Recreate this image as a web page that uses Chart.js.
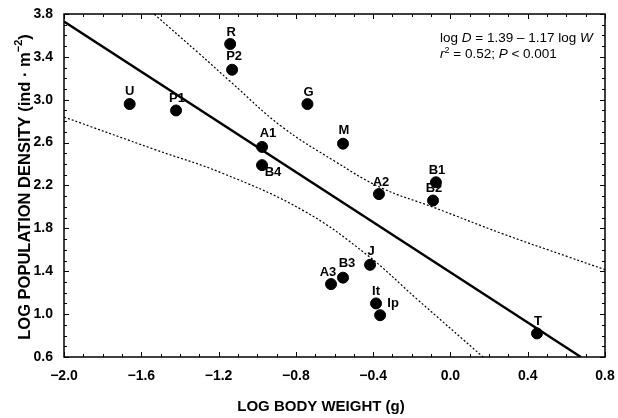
<!DOCTYPE html>
<html>
<head>
<meta charset="utf-8">
<script src="https://cdn.jsdelivr.net/npm/chart.js@4.4.1/dist/chart.umd.min.js"></script>
<style>
  html, body { margin: 0; padding: 0; background: #ffffff; }
  #wrap { width: 618px; height: 418px; }
</style>
</head>
<body>
<div id="wrap"><canvas id="c" width="618" height="418"></canvas></div>
<script>
// Sites: log body weight (g) vs log population density (ind · m^-2)
const siteCodes     = ['U', 'P1', 'R', 'P2', 'G', 'A1', 'B4', 'M', 'A2', 'B1', 'B2', 'J', 'B3', 'A3', 'It', 'Ip', 'T'];
const logBodyWeight = [-1.66, -1.42, -1.14, -1.13, -0.74, -0.975, -0.975, -0.556, -0.37, -0.075, -0.09, -0.416, -0.556, -0.618, -0.385, -0.364, 0.448];
const logDensity    = [2.96, 2.90, 3.52, 3.28, 2.96, 2.56, 2.39, 2.59, 2.12, 2.23, 2.06, 1.46, 1.34, 1.28, 1.10, 0.99, 0.82];

// Fitted regression: log D = 1.39 - 1.17 log W
const regIntercept = 1.39;
const regSlope = -1.17;

// 95% confidence band of the regression
const upperBandX = [-1.534, -1.30, -1.136, -0.877, -0.602, -0.359, -0.085, 0.262, 0.609, 0.80];
const upperBandY = [3.80, 3.43, 3.165, 2.755, 2.43, 2.179, 1.995, 1.755, 1.535, 1.415];
const lowerBandX = [-2.00, -1.529, -1.182, -0.763, -0.432, -0.173, 0.169];
const lowerBandY = [2.839, 2.535, 2.316, 1.968, 1.553, 1.14, 0.60];

// Axis ranges and labelled ticks
const xRange = [-2.0, 0.8];
const yRange = [0.6, 3.8];
const xTickStep = 0.4;
const yTickStep = 0.4;
const minorStep = 0.1;

const FONT = '"Liberation Sans", Arial, Helvetica, sans-serif';

function fmtTick(v) {
  if (Math.abs(v) < 1e-9) return '0.0';
  const s = Math.abs(v).toFixed(1);
  return v < 0 ? '\u2212' + s : s;
}

const pointData = logBodyWeight.map((x, i) => ({ x: x, y: logDensity[i] }));
const lowY = yRange[0];
const regEndX = (regIntercept - lowY) / -regSlope;
const regLine = [
  { x: xRange[0], y: regIntercept + regSlope * xRange[0] },
  { x: regEndX, y: regIntercept + regSlope * regEndX }
];
const upperBand = upperBandX.map((x, i) => ({ x: x, y: upperBandY[i] }));
const lowerBand = lowerBandX.map((x, i) => ({ x: x, y: lowerBandY[i] }));

// label offsets (px) from each dot
const labelPlacement = {
  U: [0, -13], P1: [1, -12], R: [1, -12], P2: [2, -13], G: [1, -12],
  A1: [6, -13], B4: [11, 7], M: [1, -13], A2: [2, -12], B1: [1, -12],
  B2: [1, -12], J: [1, -13], B3: [4, -14], A3: [-3, -12], It: [0, -12],
  Ip: [13, -12], T: [1, -12]
};

// Draw text made of styled pieces starting at x (left aligned)
function drawPieces(ctx, pieces, x, y) {
  let cx = x;
  for (const p of pieces) {
    ctx.font = p.font;
    ctx.fillText(p.text, cx, y + (p.dy || 0));
    cx += ctx.measureText(p.text).width;
  }
  return cx;
}
function piecesWidth(ctx, pieces) {
  let w = 0;
  for (const p of pieces) { ctx.font = p.font; w += ctx.measureText(p.text).width; }
  return w;
}

const framePlugin = {
  id: 'frameTicks',
  afterDatasetsDraw(chart) {
    const { ctx, chartArea: a, scales } = chart;
    const xs = scales.x, ys = scales.y;
    ctx.save();
    ctx.strokeStyle = '#000';
    ctx.lineWidth = 1.5;
    ctx.strokeRect(a.left, a.top, a.right - a.left, a.bottom - a.top);
    ctx.lineWidth = 1;
    const nx = Math.round((xRange[1] - xRange[0]) / minorStep);
    for (let i = 0; i <= nx; i++) {
      const v = xRange[0] + i * minorStep;
      const len = (i % Math.round(xTickStep / minorStep) === 0) ? 5 : 3;
      const px = Math.round(xs.getPixelForValue(v)) + 0.5;
      ctx.beginPath();
      ctx.moveTo(px, a.bottom); ctx.lineTo(px, a.bottom - len);
      ctx.moveTo(px, a.top); ctx.lineTo(px, a.top + len);
      ctx.stroke();
    }
    const ny = Math.round((yRange[1] - yRange[0]) / minorStep);
    for (let i = 0; i <= ny; i++) {
      const v = yRange[0] + i * minorStep;
      const len = (i % Math.round(yTickStep / minorStep) === 0) ? 5 : 3;
      const py = Math.round(ys.getPixelForValue(v)) + 0.5;
      ctx.beginPath();
      ctx.moveTo(a.left, py); ctx.lineTo(a.left + len, py);
      ctx.moveTo(a.right, py); ctx.lineTo(a.right - len, py);
      ctx.stroke();
    }

    // site labels
    ctx.fillStyle = '#000';
    ctx.font = 'bold 13px ' + FONT;
    ctx.textAlign = 'center';
    ctx.textBaseline = 'middle';
    siteCodes.forEach((code, i) => {
      const off = labelPlacement[code] || [0, -12];
      const px = xs.getPixelForValue(logBodyWeight[i]);
      const py = ys.getPixelForValue(logDensity[i]);
      ctx.fillText(code, px + off[0], py + off[1]);
    });

    // regression equation
    ctx.textAlign = 'left';
    ctx.textBaseline = 'alphabetic';
    const reg = '13.5px ' + FONT;
    const regI = 'italic 13.5px ' + FONT;
    const ax = a.left + 376;
    drawPieces(ctx, [
      { text: 'log ', font: reg },
      { text: 'D', font: regI },
      { text: ' = 1.39 \u2013 1.17 log ', font: reg },
      { text: 'W', font: regI }
    ], ax, a.top + 28);
    drawPieces(ctx, [
      { text: 'r', font: regI },
      { text: '2', font: '9px ' + FONT, dy: -5 },
      { text: ' = 0.52; ', font: reg },
      { text: 'P', font: regI },
      { text: ' < 0.001', font: reg }
    ], ax, a.top + 44);
    ctx.restore();
  },
  afterDraw(chart) {
    const { ctx, chartArea: a } = chart;
    ctx.save();
    ctx.fillStyle = '#000';
    // x axis title
    ctx.font = 'bold 15px ' + FONT;
    ctx.textAlign = 'center';
    ctx.textBaseline = 'middle';
    ctx.fillText('LOG BODY WEIGHT (g)', 321, 407);
    // y axis title with superscript
    const b = 'bold 16.5px ' + FONT;
    const pieces = [
      { text: 'LOG POPULATION DENSITY (ind \u00b7 m', font: b },
      { text: '\u22122', font: 'bold 11px ' + FONT, dy: -6 },
      { text: ')', font: b }
    ];
    ctx.translate(25, 187);
    ctx.rotate(-Math.PI / 2);
    ctx.textAlign = 'left';
    ctx.textBaseline = 'middle';
    const w = piecesWidth(ctx, pieces);
    drawPieces(ctx, pieces, -w / 2, 0);
    ctx.restore();
  }
};

// invisible tick marks reserve the gap between the frame and the tick labels
const hiddenTickGrid = {
  display: true,
  drawOnChartArea: false,
  drawTicks: true,
  tickLength: 11,
  tickColor: 'rgba(0,0,0,0)'
};

new Chart(document.getElementById('c'), {
  type: 'scatter',
  data: {
    datasets: [
      {
        label: 'Sites',
        data: pointData,
        backgroundColor: '#000',
        borderColor: '#000',
        pointRadius: 5.5,
        pointHoverRadius: 5.5,
        showLine: false
      },
      {
        label: 'Regression',
        data: regLine,
        showLine: true,
        borderColor: '#000',
        borderWidth: 2.4,
        pointRadius: 0,
        fill: false
      },
      {
        label: 'Upper 95% CI',
        data: upperBand,
        showLine: true,
        borderColor: '#000',
        borderWidth: 1.2,
        borderDash: [2, 2],
        pointRadius: 0,
        tension: 0.4,
        fill: false
      },
      {
        label: 'Lower 95% CI',
        data: lowerBand,
        showLine: true,
        borderColor: '#000',
        borderWidth: 1.2,
        borderDash: [2, 2],
        pointRadius: 0,
        tension: 0.4,
        fill: false
      }
    ]
  },
  options: {
    responsive: false,
    animation: false,
    devicePixelRatio: 1,
    layout: { padding: { left: 0, right: 13, top: 14, bottom: 0 } },
    plugins: {
      legend: { display: false },
      tooltip: { enabled: false },
      title: { display: false }
    },
    scales: {
      x: {
        type: 'linear',
        min: xRange[0],
        max: xRange[1],
        grid: hiddenTickGrid,
        border: { display: false },
        ticks: {
          stepSize: xTickStep,
          padding: 0,
          color: '#000',
          maxRotation: 0,
          autoSkip: false,
          font: { family: FONT, size: 14, weight: 'bold' },
          callback: v => fmtTick(v)
        },
        afterFit: s => { s.height = 61; }
      },
      y: {
        type: 'linear',
        min: yRange[0],
        max: yRange[1],
        grid: hiddenTickGrid,
        border: { display: false },
        ticks: {
          stepSize: yTickStep,
          padding: 0,
          color: '#000',
          autoSkip: false,
          font: { family: FONT, size: 14, weight: 'bold' },
          callback: v => fmtTick(v)
        },
        afterFit: s => { s.width = 64; }
      }
    }
  },
  plugins: [framePlugin]
});
</script>
</body>
</html>
